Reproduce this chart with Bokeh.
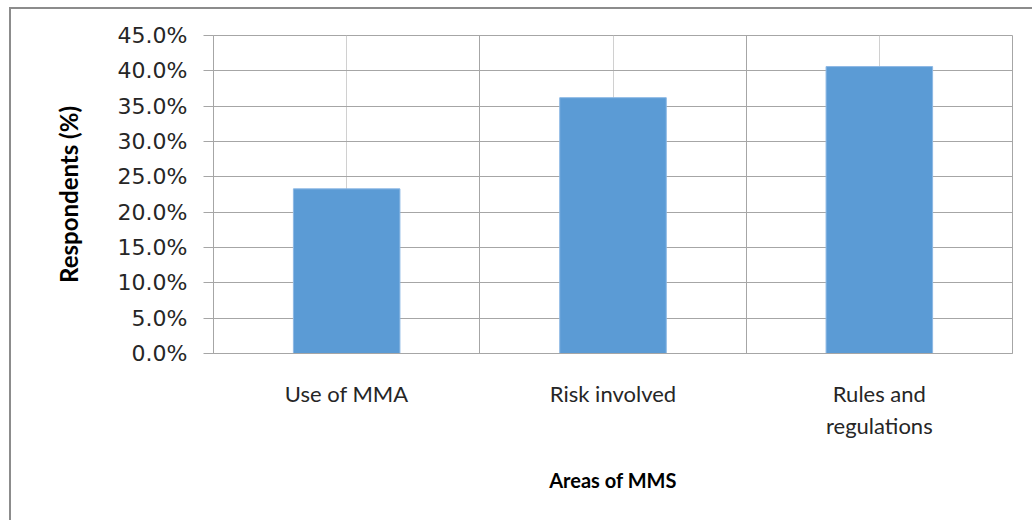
from bokeh.plotting import figure
from bokeh.models import FixedTicker, Grid, PrintfTickFormatter, Range1d, ColumnDataSource
from bokeh.embed import file_html
from bokeh.resources import INLINE

# ---- data ----
categories = ["Use of MMA", "Risk involved", "Rules and regulations"]
tick_labels = ["Use of MMA", "Risk involved", "Rules and\nregulations"]
respondents_pct = [23.3, 36.2, 40.6]
y_ticks = [0, 5, 10, 15, 20, 25, 30, 35, 40, 45]

x_pos = [i + 0.5 for i in range(len(categories))]
src = ColumnDataSource(dict(x=x_pos, top=respondents_pct, cat=categories))

GRID = "#a6a6a6"
TEXT = "#262626"

p = figure(
    width=1023, height=513,
    x_range=Range1d(0, len(categories)), y_range=Range1d(0, 45),
    output_backend="svg", toolbar_location=None,
    min_border_left=202, min_border_right=22, min_border_top=26, min_border_bottom=169,
    background_fill_color="white", border_fill_color="white",
)
p.margin = (7, 0, 0, 9)
p.styles = {"border-top": "2px solid #8c8c8c", "border-left": "2px solid #8c8c8c"}
p.outline_line_color = GRID
p.outline_line_width = 1

p.vbar(x="x", top="top", bottom=0, width=0.4, source=src,
       fill_color="#5B9BD5", line_color="#8cb8e4", line_width=1)

# grids
p.ygrid.ticker = FixedTicker(ticks=y_ticks)
p.ygrid.grid_line_color = GRID
p.ygrid.grid_line_width = 1
p.xgrid.ticker = FixedTicker(ticks=x_pos)
p.xgrid.grid_line_color = "#d0d0d0"
p.xgrid.grid_line_width = 1
bound_grid = Grid(dimension=0, ticker=FixedTicker(ticks=[1, 2]),
                  grid_line_color=GRID, grid_line_width=1)
p.add_layout(bound_grid)

# y axis
p.yaxis.ticker = FixedTicker(ticks=y_ticks)
p.yaxis.formatter = PrintfTickFormatter(format="%.1f%%")
p.yaxis.axis_line_color = GRID
p.yaxis.major_tick_line_color = GRID
p.yaxis.major_tick_out = 10
p.yaxis.major_tick_in = 0
p.yaxis.minor_tick_line_color = None
p.yaxis.major_label_standoff = 16
p.yaxis.major_label_text_font = "DejaVu Sans"
p.yaxis.major_label_text_font_size = "22px"
p.yaxis.major_label_text_color = TEXT
p.yaxis.axis_label = "Respondents (%)"
p.yaxis.axis_label_text_font = "Lato"
p.yaxis.axis_label_text_font_style = "bold"
p.yaxis.axis_label_text_font_size = "24px"
p.yaxis.axis_label_text_color = "black"
p.yaxis.axis_label_standoff = 32

# x axis
p.xaxis.ticker = FixedTicker(ticks=x_pos)
p.xaxis.major_label_overrides = {x: lab for x, lab in zip(x_pos, tick_labels)}
p.xaxis.axis_line_color = GRID
p.xaxis.major_tick_out = 0
p.xaxis.major_tick_in = 0
p.xaxis.minor_tick_line_color = None
p.xaxis.major_label_standoff = 26
p.xaxis.major_label_text_font = "Lato"
p.xaxis.major_label_text_font_size = "22px"
p.xaxis.major_label_text_color = TEXT
p.xaxis.axis_label = "Areas of MMS"
p.xaxis.axis_label_text_font = "Lato"
p.xaxis.axis_label_text_font_style = "bold"
p.xaxis.axis_label_text_font_size = "20px"
p.xaxis.axis_label_text_color = "black"
p.xaxis.axis_label_standoff = 26

open("out.html", "w").write(file_html(p, INLINE))
